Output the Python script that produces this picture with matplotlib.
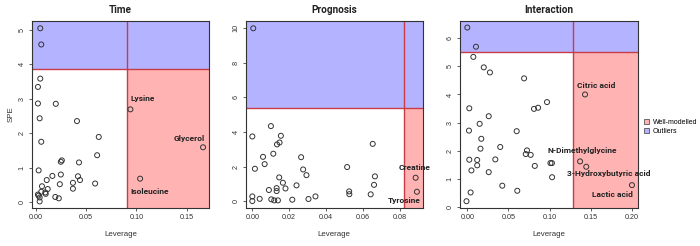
import numpy as np
import matplotlib.pyplot as plt
from matplotlib.patches import Patch

# --- data ---
time_x = [0.0046, 0.0056, 0.0046, 0.0023, 0.0023, 0.004, 0.020, 0.041, 0.0626, 0.0056,
          0.061, 0.026, 0.025, 0.043, 0.003, 0.0166, 0.025, 0.042, 0.044, 0.011,
          0.0063, 0.037, 0.024, 0.059, 0.037, 0.012, 0.0096, 0.010, 0.0056, 0.0195,
          0.023, 0.003, 0.0023, 0.004, 0.004]
time_y = [5.04, 4.57, 3.58, 3.34, 2.86, 2.43, 2.85, 2.35, 1.89, 1.75,
          1.36, 1.21, 1.17, 1.15, 0.92, 0.76, 0.80, 0.75, 0.64, 0.64,
          0.46, 0.56, 0.52, 0.54, 0.39, 0.38, 0.28, 0.24, 0.30, 0.15,
          0.11, 0.19, 0.22, 0.135, 0.02]
time_lab = ['Lysine', 'Glycerol', 'Isoleucine']
time_lab_x = [0.094, 0.166, 0.1036]
time_lab_y = [2.69, 1.59, 0.68]

prog_x = [0.0005, 0.0, 0.0101, 0.0155, 0.0148, 0.0134, 0.0058, 0.0067, 0.0114, 0.0265,
          0.0014, 0.0276, 0.0294, 0.0146, 0.0166, 0.024, 0.018, 0.009, 0.0132, 0.0132,
          0.0, 0.0, 0.004, 0.0103, 0.0119, 0.0139, 0.0217, 0.0305, 0.0343, 0.0515,
          0.0526, 0.0527, 0.0654, 0.0666, 0.0661, 0.0643]
prog_y = [10.0, 3.74, 4.34, 3.78, 3.39, 3.28, 2.56, 2.14, 2.74, 2.54,
          1.87, 1.83, 1.50, 1.37, 1.06, 0.91, 0.73, 0.64, 0.75, 0.58,
          0.27, 0.0, 0.13, 0.10, 0.04, 0.04, 0.08, 0.12, 0.27, 1.97,
          0.56, 0.40, 3.31, 1.43, 0.94, 0.39]
prog_lab = ['Creatine', 'Tyrosine']
prog_lab_x = [0.0887, 0.0894]
prog_lab_y = [1.35, 0.54]

int_x = [0.0, 0.0105, 0.0073, 0.020, 0.0275, 0.069, 0.0968, 0.081, 0.086, 0.0024,
         0.026, 0.015, 0.002, 0.060, 0.017, 0.016, 0.040, 0.0725, 0.071, 0.077,
         0.0024, 0.012, 0.012, 0.034, 0.005, 0.026, 0.082, 0.101, 0.1028, 0.103,
         0.0425, 0.0607, 0.004, -0.001]
int_y = [6.37, 5.69, 5.33, 4.96, 4.78, 4.57, 3.73, 3.49, 3.53, 3.51,
         3.23, 2.96, 2.72, 2.70, 2.43, 2.08, 2.14, 2.02, 1.89, 1.86,
         1.69, 1.68, 1.49, 1.70, 1.31, 1.25, 1.47, 1.57, 1.57, 1.07,
         0.77, 0.59, 0.53, 0.22]
int_lab = ['Citric acid', 'N-Dimethylglycine', '3-Hydroxybutyric acid', 'Lactic acid']
int_lab_x = [0.143, 0.137, 0.1445, 0.20]
int_lab_y = [4.0, 1.63, 1.44, 0.79]

BLUE = '#b3b3ff'
PINK = '#ffb3b3'
LINE = '#c83c46'
LABEL_FONT = ['Roboto', 'DejaVu Sans']
PLAIN_FONT = ['Liberation Sans', 'DejaVu Sans']

panels = [
    dict(title='Time', x=time_x, y=time_y, lx=time_lab_x, ly=time_lab_y, lab=time_lab,
         xlim=(-0.0036, 0.172), ylim=(-0.17, 5.25), vx=0.0904, hy=3.87,
         xt=[0.0, 0.05, 0.10, 0.15], yt=[0, 1, 2, 3, 4, 5], pos=[0.0457, 0.1545, 0.253, 0.760],
         offs=[(0, 5, 'left', 'bottom'), (1, 4, 'right', 'bottom'), (-7, -7, 'left', 'top')]),
    dict(title='Prognosis', x=prog_x, y=prog_y, lx=prog_lab_x, ly=prog_lab_y, lab=prog_lab,
         xlim=(-0.0036, 0.0926), ylim=(-0.40, 10.42), vx=0.0823, hy=5.38,
         xt=[0.0, 0.02, 0.04, 0.06, 0.08], yt=[0, 2, 4, 6, 8, 10], pos=[0.351, 0.1545, 0.253, 0.760],
         offs=[(-1, 5, 'center', 'bottom'), (3, -3.5, 'right', 'top')]),
    dict(title='Interaction', x=int_x, y=int_y, lx=int_lab_x, ly=int_lab_y, lab=int_lab,
         xlim=(-0.009, 0.207), ylim=(-0.02, 6.6), vx=0.129, hy=5.49,
         xt=[0.0, 0.05, 0.10, 0.15, 0.20], yt=[0, 1, 2, 3, 4, 5, 6], pos=[0.657, 0.1545, 0.254, 0.760],
         offs=[(-5.5, 4, 'left', 'bottom'), (1.5, 5, 'center', 'bottom'), (16, -2, 'center', 'top'),
               (1, -4, 'right', 'top')]),
]

plt.rcParams['font.family'] = PLAIN_FONT
fig = plt.figure(figsize=(7, 2.46), dpi=100)

for i, p in enumerate(panels):
    ax = fig.add_axes(p['pos'])
    x0, x1 = p['xlim']
    y0, y1 = p['ylim']
    ax.set_xlim(x0, x1)
    ax.set_ylim(y0, y1)
    # shaded regions
    ax.axhspan(p['hy'], y1, color=BLUE, lw=0, zorder=0)
    ax.fill_between([p['vx'], x1], y0, p['hy'], color=PINK, lw=0, zorder=0)
    ax.axhline(p['hy'], color=LINE, lw=1.0, zorder=1)
    ax.axvline(p['vx'], color=LINE, lw=1.0, zorder=1)

    ax.scatter(p['x'] + p['lx'], p['y'] + p['ly'], s=13, facecolors='none',
               edgecolors='#333333', linewidths=0.7, zorder=3)
    for lab, lx, ly, (dx, dy, ha, va) in zip(p['lab'], p['lx'], p['ly'], p['offs']):
        ax.annotate(lab, (lx, ly), xytext=(dx, dy), textcoords='offset points',
                    ha=ha, va=va, fontsize=6, fontweight='bold', color='#222222',
                    family=LABEL_FONT, zorder=4, annotation_clip=False)

    ax.set_xticks(p['xt'])
    ax.set_xticklabels([f'{v:.2f}' for v in p['xt']])
    ax.set_yticks(p['yt'])
    ax.set_yticklabels([str(v) for v in p['yt']], rotation=90, va='center')
    ax.tick_params(labelsize=5.2, length=2.5, width=0.6, color='#444444', labelcolor='#333333', pad=2)
    for s in ax.spines.values():
        s.set_linewidth(0.8)
        s.set_color('#333333')
    ax.set_title(p['title'], fontsize=7.2, fontweight='bold', pad=6, color='#222222', family=LABEL_FONT)
    ax.set_xlabel('Leverage', fontsize=5.7, color='#333333', labelpad=7)
    if i == 0:
        ax.set_ylabel('SPE', fontsize=5.7, color='#333333', labelpad=3)

handles = [Patch(facecolor=PINK, edgecolor='#555555', lw=0.6, label='Well-modelled'),
           Patch(facecolor=BLUE, edgecolor='#555555', lw=0.6, label='Outliers')]
fig.legend(handles=handles, loc='center left', bbox_to_anchor=(0.916, 0.485), frameon=False,
           prop={'family': PLAIN_FONT, 'size': 5}, handlelength=0.7, handleheight=0.7,
           handletextpad=0.6, labelspacing=0.25, borderaxespad=0)

fig.savefig('out.png', dpi=100)
